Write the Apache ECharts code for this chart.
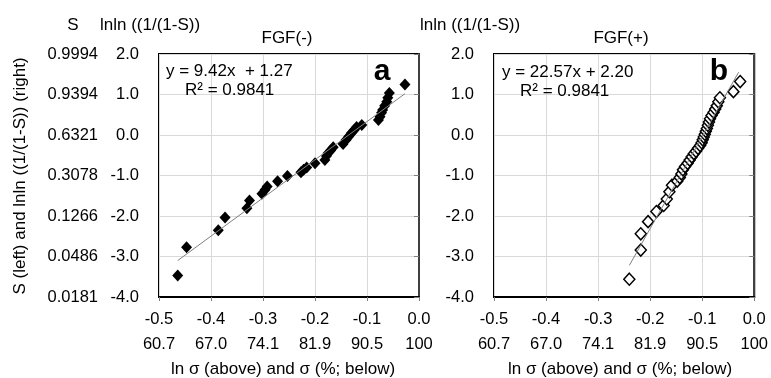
<!DOCTYPE html>
<html>
<head>
<meta charset="utf-8">
<script src="https://cdn.jsdelivr.net/npm/echarts@6/dist/echarts.min.js"></script>
<style>
  html, body { margin: 0; padding: 0; background: #fff; }
  #chart { width: 771px; height: 378px; }
</style>
</head>
<body>
<div id="chart"></div>
<script>
// tick labels
const xTickLabels = ['-0.5', '-0.4', '-0.3', '-0.2', '-0.1', '0.0'];
const sigmaLabels = ['60.7', '67.0', '74.1', '81.9', '90.5', '100'];
const lnlnLabels = ['-4.0', '-3.0', '-2.0', '-1.0', '0.0', '1.0', '2.0'];
const sLabels = ['0.0181', '0.0486', '0.1266', '0.3078', '0.6321', '0.9394', '0.9994'];

// FGF(-): [ln sigma, lnln(1/(1-S))]
const fgfMinus = [
  [-0.464, -3.47], [-0.447, -2.77], [-0.386, -2.35], [-0.373, -2.04],
  [-0.331, -1.81], [-0.326, -1.62], [-0.302, -1.45], [-0.296, -1.35],
  [-0.292, -1.27], [-0.272, -1.14], [-0.253, -1.01], [-0.227, -0.92],
  [-0.222, -0.86], [-0.216, -0.80], [-0.200, -0.70], [-0.181, -0.62],
  [-0.178, -0.52], [-0.175, -0.45], [-0.170, -0.38], [-0.165, -0.30],
  [-0.146, -0.22], [-0.140, -0.12], [-0.135, -0.04], [-0.130, 0.05],
  [-0.125, 0.12], [-0.120, 0.20], [-0.110, 0.25], [-0.078, 0.37],
  [-0.075, 0.45], [-0.072, 0.55], [-0.070, 0.62], [-0.066, 0.72],
  [-0.062, 0.82], [-0.060, 0.92], [-0.057, 1.04], [-0.027, 1.25]
];

// FGF(+)
const fgfPlus = [
  [-0.240, -3.56], [-0.218, -2.84], [-0.218, -2.44], [-0.204, -2.14],
  [-0.188, -1.89], [-0.174, -1.74], [-0.168, -1.58], [-0.163, -1.40],
  [-0.158, -1.24], [-0.148, -1.14], [-0.143, -1.05], [-0.140, -0.96],
  [-0.137, -0.86], [-0.133, -0.78], [-0.128, -0.70], [-0.124, -0.62],
  [-0.120, -0.54], [-0.116, -0.46], [-0.112, -0.40], [-0.108, -0.33],
  [-0.104, -0.26], [-0.101, -0.19], [-0.099, -0.12], [-0.097, -0.05],
  [-0.095, 0.02], [-0.093, 0.09], [-0.091, 0.16], [-0.089, 0.24],
  [-0.087, 0.32], [-0.085, 0.40], [-0.082, 0.48], [-0.078, 0.56],
  [-0.075, 0.64], [-0.072, 0.72], [-0.069, 0.82], [-0.066, 0.92],
  [-0.040, 1.07], [-0.027, 1.32]
];

// trendline end points as drawn
const trendMinus = [[-0.464, -3.10], [-0.027, 1.02]];
const trendPlus = [[-0.240, -3.22], [-0.030, 1.55]];

const font = "'Liberation Sans', Arial, sans-serif";
const txt = '#000';
const tickSize = 16.5;
const textFont = `17px ${font}`;

const xAxisFor = (gridIndex) => ({
  gridIndex,
  type: 'value',
  min: -0.5,
  max: 0,
  interval: 0.1,
  axisLine: { show: true, onZero: false, lineStyle: { color: '#000', width: 2 } },
  axisTick: { show: true, length: 4, lineStyle: { color: '#808080' } },
  splitLine: { show: true, lineStyle: { color: '#d9d9d9', width: 1 } },
  axisLabel: {
    color: txt,
    fontFamily: font,
    fontSize: tickSize,
    lineHeight: 25,
    margin: 10,
    formatter: (v) => {
      const i = Math.round((v + 0.5) * 10);
      return xTickLabels[i] + '\n' + sigmaLabels[i];
    },
  },
});

const yLnlnFor = (gridIndex) => ({
  gridIndex,
  type: 'value',
  min: -4,
  max: 2,
  interval: 1,
  axisLine: { show: true, lineStyle: { color: '#404040', width: 2 } },
  axisTick: { show: true, length: 5, lineStyle: { color: '#808080' } },
  splitLine: { show: true, lineStyle: { color: '#d9d9d9', width: 1 } },
  axisLabel: {
    color: txt,
    fontFamily: font,
    fontSize: tickSize,
    margin: 20,
    formatter: (v) => lnlnLabels[Math.round(v + 4)],
  },
});

const chart = echarts.init(document.getElementById('chart'));
const option = {
  animation: false,
  backgroundColor: '#fff',
  grid: [
    { left: 159, top: 54, width: 260, height: 243, show: true, borderColor: '#000', borderWidth: 2, backgroundColor: '#fff' },
    { left: 494, top: 54, width: 262, height: 243, show: true, borderColor: '#000', borderWidth: 2, backgroundColor: '#fff' },
  ],
  xAxis: [xAxisFor(0), xAxisFor(1)],
  yAxis: [
    yLnlnFor(0),
    {
      gridIndex: 0,
      type: 'value',
      position: 'left',
      min: -4,
      max: 2,
      interval: 1,
      axisLine: { show: false },
      axisTick: { show: false },
      splitLine: { show: false },
      axisLabel: {
        color: txt,
        fontFamily: font,
        fontSize: tickSize,
        margin: 61,
        formatter: (v) => sLabels[Math.round(v + 4)],
      },
    },
    yLnlnFor(1),
  ],
  series: [
    {
      type: 'line',
      xAxisIndex: 0,
      yAxisIndex: 0,
      data: trendMinus,
      symbol: 'none',
      silent: true,
      lineStyle: { color: '#808080', width: 1 },
    },
    {
      type: 'scatter',
      xAxisIndex: 0,
      yAxisIndex: 0,
      data: fgfMinus,
      symbol: 'diamond',
      symbolSize: [11, 12],
      itemStyle: { color: '#000', opacity: 1 },
    },
    {
      type: 'line',
      xAxisIndex: 1,
      yAxisIndex: 2,
      data: trendPlus,
      symbol: 'none',
      silent: true,
      lineStyle: { color: '#808080', width: 1 },
    },
    {
      type: 'scatter',
      xAxisIndex: 1,
      yAxisIndex: 2,
      data: fgfPlus,
      symbol: 'diamond',
      symbolSize: [11, 12],
      itemStyle: { color: '#fff', borderColor: '#000', borderWidth: 1.5, opacity: 1 },
    },
  ],
  graphic: [
    { type: 'text', x: 73, y: 25, style: { text: 'S', font: textFont, fill: txt, align: 'center', verticalAlign: 'middle' } },
    { type: 'text', x: 100, y: 25, style: { text: 'lnln ((1/(1-S))', font: textFont, fill: txt, verticalAlign: 'middle' } },
    { type: 'text', x: 420, y: 25, style: { text: 'lnln ((1/(1-S))', font: textFont, fill: txt, verticalAlign: 'middle' } },
    { type: 'text', x: 287, y: 38, style: { text: 'FGF(-)', font: textFont, fill: txt, align: 'center', verticalAlign: 'middle' } },
    { type: 'text', x: 621, y: 38, style: { text: 'FGF(+)', font: textFont, fill: txt, align: 'center', verticalAlign: 'middle' } },
    { type: 'text', x: 166, y: 71, z: 10, style: { text: 'y = 9.42x  + 1.27', font: textFont, fill: txt, verticalAlign: 'middle' } },
    { type: 'text', x: 185, y: 90, z: 10, style: { text: 'R² = 0.9841', font: textFont, fill: txt, verticalAlign: 'middle' } },
    { type: 'text', x: 502, y: 72, z: 10, style: { text: 'y = 22.57x + 2.20', font: textFont, fill: txt, verticalAlign: 'middle' } },
    { type: 'text', x: 520, y: 91, z: 10, style: { text: 'R² = 0.9841', font: textFont, fill: txt, verticalAlign: 'middle' } },
    { type: 'text', x: 382, y: 72, z: 10, style: { text: 'a', font: `bold 30px ${font}`, fill: txt, align: 'center', verticalAlign: 'middle' } },
    { type: 'text', x: 719, y: 72, z: 10, style: { text: 'b', font: `bold 30px ${font}`, fill: txt, align: 'center', verticalAlign: 'middle' } },
    { type: 'text', x: 20, y: 176, rotation: Math.PI / 2, style: { text: 'S (left) and lnln ((1/(1-S)) (right)', font: textFont, fill: txt, align: 'center', verticalAlign: 'middle' } },
    { type: 'text', x: 283, y: 369, style: { text: 'ln σ (above) and σ (%; below)', font: textFont, fill: txt, align: 'center', verticalAlign: 'middle' } },
    { type: 'text', x: 620, y: 369, style: { text: 'ln σ (above) and σ (%; below)', font: textFont, fill: txt, align: 'center', verticalAlign: 'middle' } },
  ],
};
chart.setOption(option);
</script>
</body>
</html>
